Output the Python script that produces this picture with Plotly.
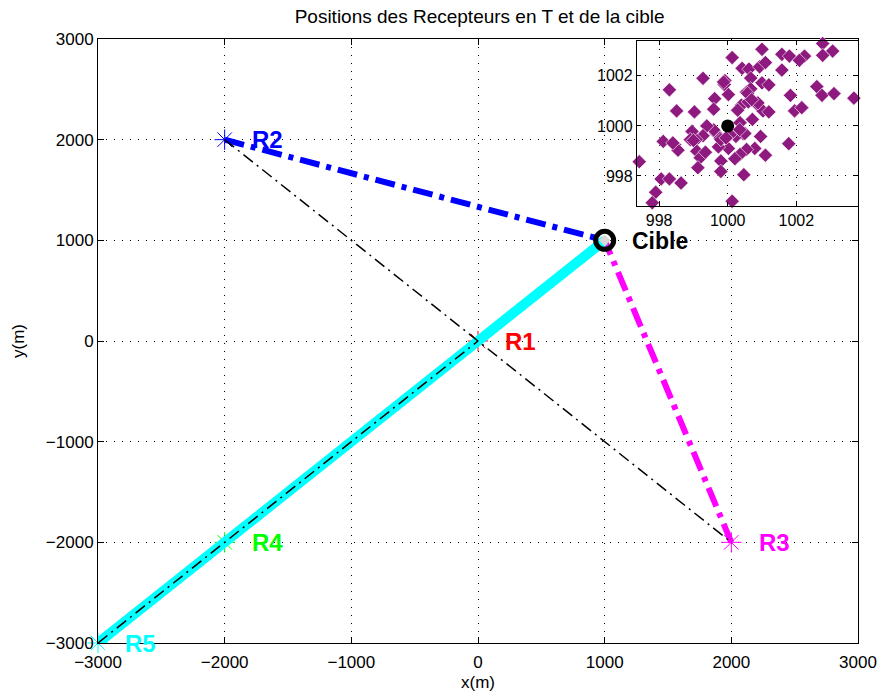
import plotly.graph_objects as go

# Receivers laid out in a T, plus the target
rec_names = ["R1", "R2", "R3", "R4", "R5"]
rec_x = [0, -2000, 2000, -2000, -3000]
rec_y = [0, 2000, -2000, -2000, -3000]
rec_colors = ["#ff0000", "#0000ff", "#ff00ff", "#00ff00", "#00ffff"]

target_x = 1000
target_y = 1000

# Estimated target positions (zoomed view)
est_x = [1002.77, 1003.06, 1001.00, 1001.58, 1001.80, 1002.24, 1002.09, 1002.77, 1000.13, 1000.42,
         1000.62, 1000.93, 1001.10, 1001.58, 1000.67, 1001.00, 1001.20, 999.28, 998.30, 999.92,
         999.90, 1000.02, 1000.55, 1000.67, 999.62, 999.59, 999.03, 998.51, 1000.40, 1000.29,
         1000.60, 1000.84, 1001.03, 1001.20, 1000.72, 1000.36, 1002.60, 1002.75, 1003.10, 1003.68,
         1001.83, 1001.95, 1002.16, 1001.78, 1001.10, 1000.96, 1000.79, 1000.55, 1000.45, 1000.24,
         1000.36, 1000.21, 1000.02, 999.73, 999.80, 999.80, 1000.47, 1000.13, 1000.07, 999.66,
         999.78, 999.59, 999.39, 999.28, 999.08, 998.96, 998.91, 999.10, 999.20, 999.35,
         999.13, 998.12, 998.45, 998.55, 997.42, 998.06, 998.30, 998.64, 997.90, 997.80,
         999.88, 1000.58, 1000.88, 998.40, 999.80, 1000.50, 999.00, 1000.70, 999.95, 1000.35]
est_y = [1003.29, 1002.99, 1003.06, 1002.86, 1002.79, 1002.79, 1002.62, 1002.82, 1002.73, 1002.30,
         1002.27, 1002.36, 1002.53, 1002.23, 1001.91, 1001.72, 1001.64, 1001.90, 1001.44, 1001.81,
         1001.65, 1001.25, 1001.35, 1001.48, 1001.09, 1000.67, 1000.56, 1000.60, 1000.83, 1000.63,
         1000.96, 1000.89, 1000.60, 1000.56, 1000.26, 1000.13, 1001.57, 1001.22, 1001.29, 1001.11,
         1001.22, 1000.60, 1000.73, 999.29, 998.83, 999.58, 999.10, 999.06, 999.69, 999.58,
         998.86, 998.69, 999.10, 999.16, 998.60, 998.18, 998.05, 996.99, 999.65, 999.71,
         999.51, 999.84, 1000.00, 999.61, 999.45, 999.78, 999.45, 998.99, 998.73, 998.95,
         998.33, 999.38, 999.25, 999.03, 998.57, 997.88, 997.88, 997.72, 997.35, 996.93,
         1001.75, 1001.30, 1000.92, 999.32, 999.45, 999.70, 999.42, 1001.05, 999.52, 999.85]

main_ticks = [-3000, -2000, -1000, 0, 1000, 2000, 3000]
inset_ticks = [998, 1000, 1002]

FONT = "Liberation Sans, Arial, Helvetica, sans-serif"
GRID_DASH = "1px,7px"

fig = go.Figure()

# Lines from each receiver to the target (cyan drawn last, on top)
line_styles = {
    "R1": dict(width=6, dash="20px,7px,5px,7px"),
    "R4": dict(width=6, dash="20px,7px,5px,7px"),
    "R2": dict(width=6, dash="20px,7px,5px,7px"),
    "R3": dict(width=6, dash="20px,7px,5px,7px"),
    "R5": dict(width=10, dash="solid"),
}

# Receiver markers (asterisks)
for name, x, y, c in zip(rec_names, rec_x, rec_y, rec_colors):
    fig.add_trace(go.Scatter(
        x=[x], y=[y], mode="markers",
        marker=dict(symbol="asterisk-open", size=17, color=c, line=dict(color=c, width=1)),
        showlegend=False, hoverinfo="skip", cliponaxis=False))

for name, x, y, c in zip(rec_names, rec_x, rec_y, rec_colors):
    st = line_styles[name]
    fig.add_trace(go.Scatter(
        x=[x, target_x], y=[y, target_y], mode="lines",
        line=dict(color=c, width=st["width"], dash=st["dash"]),
        showlegend=False, hoverinfo="skip"))

# The T itself: R2-R3 bar and R1-R5 stem
i1, i2, i3, i5 = 0, 1, 2, 4
for a, b in [(i2, i3), (i5, i1)]:
    fig.add_trace(go.Scatter(
        x=[rec_x[a], rec_x[b]], y=[rec_y[a], rec_y[b]], mode="lines",
        line=dict(color="black", width=1.5, dash="12px,5px,2px,5px"),
        showlegend=False, hoverinfo="skip"))

# Target
fig.add_trace(go.Scatter(
    x=[target_x], y=[target_y], mode="markers",
    marker=dict(symbol="circle-open", size=18, color="black", line=dict(color="black", width=5)),
    showlegend=False, hoverinfo="skip"))
fig.add_trace(go.Scatter(
    x=[target_x], y=[target_y], mode="markers",
    marker=dict(symbol="diamond", size=9, color="#d8d8d8"),
    showlegend=False, hoverinfo="skip"))

# Receiver and target labels
for name, x, y, c in zip(rec_names, rec_x, rec_y, rec_colors):
    fig.add_annotation(x=x + 200, y=y, text="<b>" + name + "</b>", showarrow=False,
                       xanchor="left", yanchor="middle",
                       font=dict(family=FONT, size=24, color=c))
fig.add_annotation(x=target_x + 200, y=target_y, text="<b>Cible</b>", showarrow=False,
                   xanchor="left", yanchor="middle", yshift=-1,
                   font=dict(family=FONT, size=23, color="black"))

# Zoomed view of the estimates
fig.add_shape(type="rect", xref="x2 domain", yref="y2 domain", x0=0, x1=1, y0=0, y1=1,
              fillcolor="white", line=dict(width=0), layer="below")
fig.add_trace(go.Scatter(
    x=est_x, y=est_y, mode="markers", xaxis="x2", yaxis="y2",
    marker=dict(symbol="diamond", size=11, color="#8e1a7f", line=dict(color="white", width=0.6)),
    showlegend=False, hoverinfo="skip", cliponaxis=False))
fig.add_trace(go.Scatter(
    x=[target_x], y=[target_y], mode="markers", xaxis="x2", yaxis="y2",
    marker=dict(symbol="circle", size=13, color="black"),
    showlegend=False, hoverinfo="skip"))

axis_common = dict(
    showline=True, linecolor="black", linewidth=1, mirror="ticks",
    ticks="inside", ticklen=6, tickcolor="black", automargin=False,
    showgrid=True, gridcolor="black", gridwidth=1, griddash=GRID_DASH,
    zeroline=False, tickfont=dict(family=FONT, size=17, color="black"),
)
title_font = dict(family=FONT, size=17, color="black")

fig.update_layout(
    width=885, height=697,
    margin=dict(l=98, r=27, t=39, b=54),
    paper_bgcolor="white", plot_bgcolor="white",
    title=dict(text="Positions des Recepteurs en T et de la cible", x=0.542, xanchor="center",
               y=0.976, yanchor="middle", font=dict(family=FONT, size=19, color="black")),
    xaxis=dict(range=[-3000, 3000], tickvals=main_ticks, domain=[0, 1], ticklabelstandoff=4,
               title=dict(text="x(m)", font=title_font, standoff=4),
               **axis_common),
    yaxis=dict(range=[-3000, 3000], tickvals=main_ticks, domain=[0, 1],
               title=dict(text="y(m)", font=title_font, standoff=16),
               **axis_common),
    xaxis2=dict(range=[997.35, 1003.8], tickvals=inset_ticks, domain=[0.709, 1.0], anchor="y2",
                **{**axis_common, "tickfont": dict(family=FONT, size=16, color="black"), "ticklen": 4}),
    yaxis2=dict(range=[996.8, 1003.4], tickvals=inset_ticks, domain=[0.7235, 0.997], anchor="x2",
                **{**axis_common, "tickfont": dict(family=FONT, size=16, color="black"), "ticklen": 4}),
)

fig.write_html("out.html")
